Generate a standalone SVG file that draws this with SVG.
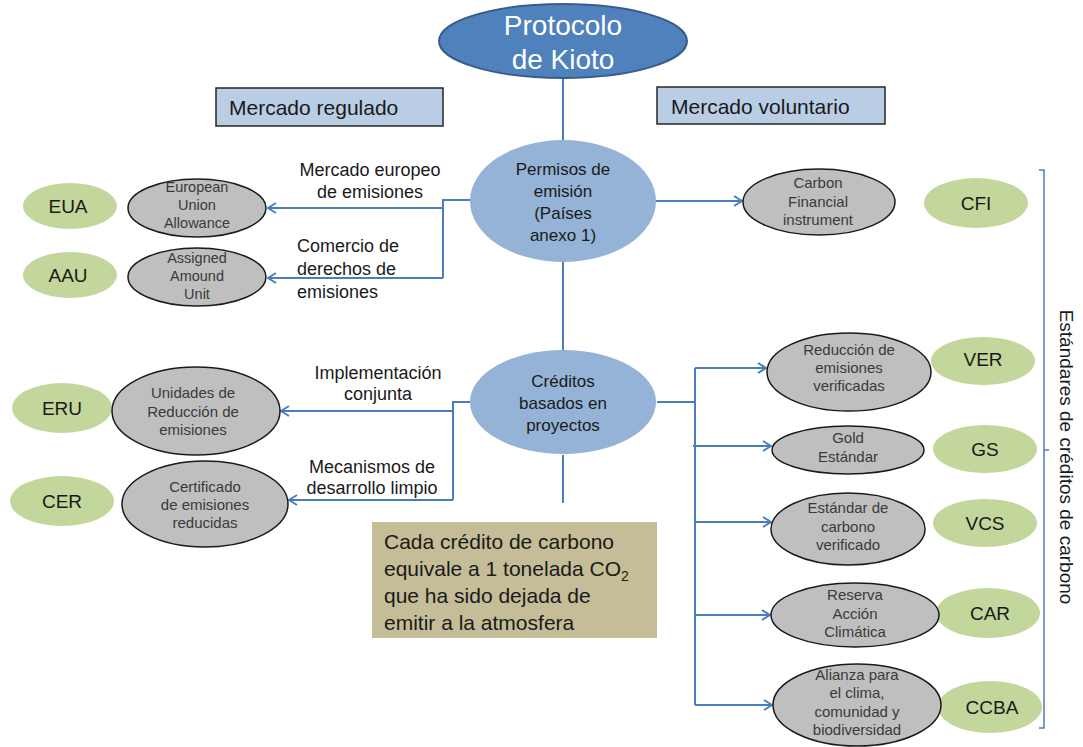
<svg xmlns="http://www.w3.org/2000/svg" width="1083" height="747" viewBox="0 0 1083 747">
  <style>
    text { font-family: "Liberation Sans", Arial, sans-serif; }
    .root { fill: #4f81bd; stroke: #385d8a; stroke-width: 2; }
    .root-t { fill: #ffffff; font-size: 28px; text-anchor: middle; }
    .hub { fill: #95b3d7; }
    .hub-t { fill: #1a1a1a; font-size: 17px; text-anchor: middle; }
    .box { fill: #b9cde5; stroke: #262626; stroke-width: 1.5; }
    .box-t { fill: #1a1a1a; font-size: 21px; }
    .unit { fill: #bfbfbf; stroke: #1a1a1a; stroke-width: 1.5; }
    .unit-t { fill: #3a3a3a; font-size: 15px; text-anchor: middle; }
    .unit-s { fill: #3a3a3a; font-size: 14.5px; text-anchor: middle; }
    .code { fill: #c3d69b; }
    .code-t { fill: #1a1a1a; font-size: 19px; text-anchor: middle; }
    .lbl { fill: #1a1a1a; font-size: 18px; }
    .note { fill: #c4bd97; }
    .note-t { fill: #1a1a1a; font-size: 21px; }
    .link { fill: none; stroke: #4a7ebb; stroke-width: 2; }
    .arrow { fill: none; stroke: #4a7ebb; stroke-width: 2; marker-end: url(#chev); }
    .brace { fill: none; stroke: #4a7ebb; stroke-width: 1.5; }
  </style>
  <defs>
    <marker id="chev" viewBox="0 0 10 12" refX="9" refY="6" markerWidth="10" markerHeight="12" markerUnits="userSpaceOnUse" orient="auto">
      <path d="M1,1 L9,6 L1,11" fill="none" stroke="#4a7ebb" stroke-width="2"/>
    </marker>
  </defs>
  <rect width="1083" height="747" fill="#ffffff"/>

  <!-- connectors -->
  <g id="connectors">
    <path class="link" d="M563,78 V141 M563,262 V350 M563,455 V503"/>
    <!-- emission permits branch -->
    <path class="link" d="M471,200 H443 V278"/>
    <path class="arrow" d="M443,208 H268"/>
    <path class="arrow" d="M443,278 H268"/>
    <path class="arrow" d="M656,201 H742"/>
    <!-- project credits branch -->
    <path class="link" d="M470,402 H453 V500"/>
    <path class="arrow" d="M453,411 H281"/>
    <path class="arrow" d="M453,500 H289"/>
    <path class="link" d="M657,402 H695 M695,368 V705"/>
    <path class="arrow" d="M695,368 H766"/>
    <path class="arrow" d="M693,446 H771"/>
    <path class="arrow" d="M695,522 H771"/>
    <path class="arrow" d="M695,615 H770"/>
    <path class="arrow" d="M695,705 H772"/>
  </g>

  <g id="kioto">
    <ellipse class="root" cx="563" cy="41" rx="124" ry="37"/>
    <text class="root-t" x="563" y="35">Protocolo</text>
    <text class="root-t" x="563" y="69">de Kioto</text>
  </g>

  <g id="mercado-regulado">
    <rect class="box" x="216" y="88" width="227" height="38"/>
    <text class="box-t" x="229" y="115">Mercado regulado</text>
  </g>
  <g id="mercado-voluntario">
    <rect class="box" x="657" y="87" width="228" height="37"/>
    <text class="box-t" x="671" y="114">Mercado voluntario</text>
  </g>

  <g id="permisos">
    <ellipse class="hub" cx="563" cy="201" rx="93" ry="61"/>
    <text class="hub-t" x="563" y="175">Permisos de</text>
    <text class="hub-t" x="563" y="197">emisión</text>
    <text class="hub-t" x="563" y="219">(Países</text>
    <text class="hub-t" x="563" y="241">anexo 1)</text>
  </g>

  <g id="creditos">
    <ellipse class="hub" cx="563" cy="402" rx="93" ry="52"/>
    <text class="hub-t" x="563" y="387">Créditos</text>
    <text class="hub-t" x="563" y="409">basados en</text>
    <text class="hub-t" x="563" y="431">proyectos</text>
  </g>

  <!-- connector labels -->
  <g id="labels">
    <text class="lbl" x="370" y="176" text-anchor="middle">Mercado europeo</text>
    <text class="lbl" x="370" y="198" text-anchor="middle">de emisiones</text>
    <text class="lbl" x="297" y="252">Comercio de</text>
    <text class="lbl" x="297" y="275">derechos de</text>
    <text class="lbl" x="297" y="298">emisiones</text>
    <text class="lbl" x="378" y="379" text-anchor="middle">Implementación</text>
    <text class="lbl" x="378" y="400" text-anchor="middle">conjunta</text>
    <text class="lbl" x="372" y="473" text-anchor="middle">Mecanismos de</text>
    <text class="lbl" x="372" y="494" text-anchor="middle">desarrollo limpio</text>
  </g>

  <g id="eua">
    <ellipse class="code" cx="70" cy="206" rx="47" ry="23"/>
    <text class="code-t" x="68" y="213">EUA</text>
    <ellipse class="unit" cx="197" cy="208" rx="69" ry="29"/>
    <text class="unit-s" x="197" y="192">European</text>
    <text class="unit-s" x="197" y="210">Union</text>
    <text class="unit-s" x="197" y="228">Allowance</text>
  </g>

  <g id="aau">
    <ellipse class="code" cx="70" cy="275" rx="47" ry="23"/>
    <text class="code-t" x="68" y="282">AAU</text>
    <ellipse class="unit" cx="197" cy="277" rx="69" ry="29"/>
    <text class="unit-s" x="197" y="263">Assigned</text>
    <text class="unit-s" x="197" y="281">Amound</text>
    <text class="unit-s" x="197" y="299">Unit</text>
  </g>

  <g id="eru">
    <ellipse class="code" cx="62" cy="408" rx="50" ry="25"/>
    <text class="code-t" x="62" y="415">ERU</text>
    <ellipse class="unit" cx="196" cy="411" rx="84" ry="44"/>
    <text class="unit-t" x="193" y="398">Unidades de</text>
    <text class="unit-t" x="193" y="417">Reducción de</text>
    <text class="unit-t" x="193" y="435">emisiones</text>
  </g>

  <g id="cer">
    <ellipse class="code" cx="62" cy="501" rx="52" ry="25"/>
    <text class="code-t" x="62" y="508">CER</text>
    <ellipse class="unit" cx="205" cy="504" rx="83" ry="43"/>
    <text class="unit-t" x="205" y="492">Certificado</text>
    <text class="unit-t" x="205" y="510">de emisiones</text>
    <text class="unit-t" x="205" y="528">reducidas</text>
  </g>

  <g id="cfi">
    <ellipse class="unit" cx="819" cy="202" rx="76" ry="33"/>
    <text class="unit-t" x="818" y="188">Carbon</text>
    <text class="unit-t" x="818" y="207">Financial</text>
    <text class="unit-t" x="818" y="225">instrument</text>
    <ellipse class="code" cx="976" cy="203" rx="52" ry="25"/>
    <text class="code-t" x="976" y="210">CFI</text>
  </g>

  <g id="ver">
    <ellipse class="code" cx="983" cy="361" rx="52" ry="24"/>
    <text class="code-t" x="983" y="366">VER</text>
    <ellipse class="unit" cx="849" cy="372" rx="82" ry="39"/>
    <text class="unit-t" x="849" y="355">Reducción de</text>
    <text class="unit-t" x="849" y="373">emisiones</text>
    <text class="unit-t" x="849" y="391">verificadas</text>
  </g>

  <g id="gs">
    <ellipse class="code" cx="985" cy="449" rx="52" ry="24"/>
    <text class="code-t" x="985" y="456">GS</text>
    <ellipse class="unit" cx="848" cy="450" rx="76" ry="24"/>
    <text class="unit-t" x="848" y="443">Gold</text>
    <text class="unit-t" x="848" y="462">Estándar</text>
  </g>

  <g id="vcs">
    <ellipse class="code" cx="985" cy="523" rx="52" ry="24"/>
    <text class="code-t" x="985" y="530">VCS</text>
    <ellipse class="unit" cx="848" cy="529" rx="77" ry="36"/>
    <text class="unit-t" x="848" y="513">Estándar de</text>
    <text class="unit-t" x="848" y="532">carbono</text>
    <text class="unit-t" x="848" y="550">verificado</text>
  </g>

  <g id="car">
    <ellipse class="code" cx="988" cy="613" rx="52" ry="25"/>
    <text class="code-t" x="990" y="620">CAR</text>
    <ellipse class="unit" cx="855" cy="615" rx="84" ry="32"/>
    <text class="unit-t" x="855" y="600">Reserva</text>
    <text class="unit-t" x="855" y="619">Acción</text>
    <text class="unit-t" x="855" y="637">Climática</text>
  </g>

  <g id="ccba">
    <ellipse class="code" cx="990" cy="707" rx="52" ry="26"/>
    <text class="code-t" x="992" y="714">CCBA</text>
    <ellipse class="unit" cx="857" cy="705" rx="84" ry="41"/>
    <text class="unit-t" x="857" y="680">Alianza para</text>
    <text class="unit-t" x="857" y="698">el clima,</text>
    <text class="unit-t" x="857" y="717">comunidad y</text>
    <text class="unit-t" x="857" y="735">biodiversidad</text>
  </g>

  <g id="nota">
    <rect class="note" x="372" y="522" width="285" height="116"/>
    <text class="note-t" x="384" y="549">Cada crédito de carbono</text>
    <text class="note-t" x="384" y="576">equivale a 1 tonelada CO<tspan font-size="14" dy="5">2</tspan></text>
    <text class="note-t" x="384" y="603">que ha sido dejada de</text>
    <text class="note-t" x="384" y="630">emitir a la atmosfera</text>
  </g>

  <g id="estandares">
    <path class="brace" d="M1039,170 H1044 V728 H1039 M1044,450 H1049"/>
    <text x="1060" y="0" font-size="19" fill="#1a1a1a" text-anchor="middle" transform="translate(1060,457) rotate(90) translate(-1060,0)">Estándares de créditos de carbono</text>
  </g>
</svg>
